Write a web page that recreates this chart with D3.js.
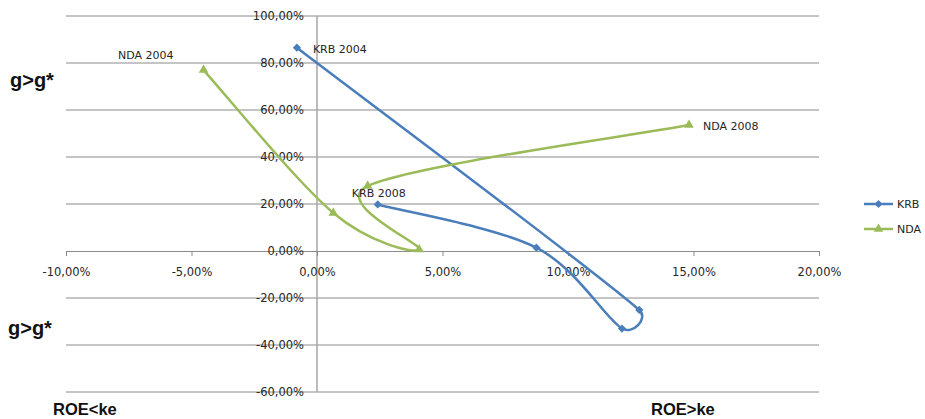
<!DOCTYPE html>
<html>
<head>
<meta charset="utf-8">
<script src="https://cdn.jsdelivr.net/npm/d3@7"></script>
<style>
  html, body { margin: 0; padding: 0; background: #fff; }
  svg { display: block; }
</style>
</head>
<body>
<svg id="chart" width="925" height="419"></svg>
<script>
// ROE - ke (x) against growth spread (y), 2004-2008
const years = ["2004", "2005", "2006", "2007", "2008"];
const krbX = [-0.0080, 0.1284, 0.1215, 0.0874, 0.0242];
const krbY = [0.865, -0.251, -0.330, 0.014, 0.198];
const ndaX = [-0.0452, 0.0065, 0.0407, 0.0202, 0.1482];
const ndaY = [0.770, 0.162, 0.006, 0.277, 0.536];
const xTicks = [-0.10, -0.05, 0, 0.05, 0.10, 0.15, 0.20];
const yTicks = [-0.6, -0.4, -0.2, 0, 0.2, 0.4, 0.6, 0.8, 1.0];
const seriesNames = ["KRB", "NDA"];

const svg = d3.select("#chart");
const plotLeft = 66, plotRight = 819, plotTop = 16, plotBottom = 392;
const labelFont = "'DejaVu Sans', Verdana, sans-serif";
const boldFont = "'Liberation Sans', Arial, sans-serif";

const x = d3.scaleLinear().domain([-0.10, 0.20]).range([plotLeft, plotRight]);
const y = d3.scaleLinear().domain([-0.6, 1.0]).range([plotBottom, plotTop]);

const fmt = d3.formatLocale({
  decimal: ",", thousands: ".", grouping: [3], currency: ["", " €"], minus: "-"
}).format(".2%");

const colors = { KRB: "#4a7ebb", NDA: "#9bbb59" };

// Spreadsheet-style smoothing: cubic Bezier segments whose control arms are
// 1/6 of the neighbour chord, capped at half of the segment length.
function SmoothCurve(context) { this._context = context; }
SmoothCurve.prototype = {
  areaStart() {}, areaEnd() {},
  lineStart() { this._pts = []; },
  point(px, py) { this._pts.push([+px, +py]); },
  lineEnd() {
    const p = this._pts, c = this._context, n = p.length;
    if (!n) return;
    c.moveTo(p[0][0], p[0][1]);
    const dist = (a, b) => Math.hypot(b[0] - a[0], b[1] - a[1]);
    for (let i = 0; i < n - 1; i++) {
      const p0 = p[i - 1] || p[i], p1 = p[i], p2 = p[i + 1], p3 = p[i + 2] || p[i + 1];
      const d12 = dist(p1, p2), d02 = dist(p0, p2), d13 = dist(p1, p3);
      let f1 = 1 / 6, f2 = 1 / 6;
      if (d02 / 6 >= d12 / 2 && d02 > 0) f1 = d12 / 2 / d02;
      if (d13 / 6 >= d12 / 2 && d13 > 0) f2 = d12 / 2 / d13;
      c.bezierCurveTo(
        p1[0] + f1 * (p2[0] - p0[0]), p1[1] + f1 * (p2[1] - p0[1]),
        p2[0] - f2 * (p3[0] - p1[0]), p2[1] - f2 * (p3[1] - p1[1]),
        p2[0], p2[1]);
    }
  }
};
const curveSmooth = ctx => new SmoothCurve(ctx);

// horizontal gridlines
svg.append("g")
  .selectAll("line")
  .data(yTicks.filter(d => d !== 0))
  .join("line")
  .attr("x1", plotLeft).attr("x2", plotRight)
  .attr("y1", d => y(d)).attr("y2", d => y(d))
  .attr("stroke", "#8a8a8a").attr("stroke-width", 1);

// vertical value axis through x = 0
svg.append("line")
  .attr("x1", x(0)).attr("x2", x(0))
  .attr("y1", plotTop).attr("y2", plotBottom)
  .attr("stroke", "#a6a6a6").attr("stroke-width", 1.5);

// horizontal axis through y = 0 with ticks below
const xAxis = d3.axisBottom(x).tickValues(xTicks).tickSize(5).tickFormat(fmt);
const gx = svg.append("g")
  .attr("transform", `translate(0,${y(0)})`)
  .call(xAxis);
gx.select(".domain").attr("stroke", "#8a8a8a");
gx.selectAll(".tick line").attr("stroke", "#8a8a8a");
gx.selectAll(".tick text")
  .attr("y", 0).attr("dy", "2.15em")
  .style("font-family", labelFont)
  .style("font-size", "11.5px")
  .attr("fill", "#262626");

// y tick labels, right aligned left of the value axis
svg.append("g")
  .selectAll("text")
  .data(yTicks)
  .join("text")
  .attr("x", x(0) - 13)
  .attr("y", d => y(d))
  .attr("dy", "0.36em")
  .attr("text-anchor", "end")
  .style("font-family", labelFont)
  .style("font-size", "11.5px")
  .attr("fill", "#262626")
  .text(d => fmt(d));

// smoothed series lines and markers
const line = d3.line()
  .x(d => x(d[0])).y(d => y(d[1]))
  .curve(curveSmooth);

const series = [
  { name: "KRB", pts: krbX.map((v, i) => [v, krbY[i]]) },
  { name: "NDA", pts: ndaX.map((v, i) => [v, ndaY[i]]) }
];

const diamond = d3.symbol().type(d3.symbolSquare).size(34);
const triangle = d3.symbol().type(d3.symbolTriangle).size(40);

series.forEach(s => {
  svg.append("path")
    .attr("d", line(s.pts))
    .attr("fill", "none")
    .attr("stroke", colors[s.name])
    .attr("stroke-width", 2.5)
    .attr("stroke-linejoin", "round");
  svg.append("g")
    .selectAll("path")
    .data(s.pts)
    .join("path")
    .attr("d", s.name === "KRB" ? diamond : triangle)
    .attr("transform", d => `translate(${x(d[0])},${y(d[1])})` + (s.name === "KRB" ? " rotate(45)" : ""))
    .attr("fill", colors[s.name]);
});

// point labels for first and last year
const pointLabels = [
  { text: "NDA " + years[0], px: ndaX[0], py: ndaY[0], dx: -30, dy: -15, anchor: "end" },
  { text: "KRB " + years[0], px: krbX[0], py: krbY[0], dx: 16, dy: 1, anchor: "start" },
  { text: "NDA " + years[4], px: ndaX[4], py: ndaY[4], dx: 14, dy: 1, anchor: "start" },
  { text: "KRB " + years[4], px: krbX[4], py: krbY[4], dx: 1, dy: -11, anchor: "middle" }
];
svg.append("g")
  .selectAll("text")
  .data(pointLabels)
  .join("text")
  .attr("x", d => x(d.px) + d.dx)
  .attr("y", d => y(d.py) + d.dy)
  .attr("dy", "0.36em")
  .attr("text-anchor", d => d.anchor)
  .style("font-family", labelFont)
  .style("font-size", "11px")
  .attr("fill", "#262626")
  .text(d => d.text);

// quadrant captions
const captions = [
  { text: "g>g*", cx: 10, cy: 87, size: 20 },
  { text: "g>g*", cx: 8, cy: 335, size: 20 },
  { text: "ROE<ke", cx: 53, cy: 415, size: 16.5 },
  { text: "ROE>ke", cx: 651, cy: 415, size: 16.5 }
];
svg.append("g")
  .selectAll("text")
  .data(captions)
  .join("text")
  .attr("x", d => d.cx).attr("y", d => d.cy)
  .style("font-family", boldFont)
  .style("font-weight", "bold")
  .style("font-size", d => d.size + "px")
  .attr("fill", "#111")
  .text(d => d.text);

// legend
const legend = svg.append("g").attr("transform", "translate(864,204)");
seriesNames.forEach((name, i) => {
  const g = legend.append("g").attr("transform", `translate(0,${i * 25})`);
  g.append("line").attr("x1", 0).attr("x2", 29).attr("y1", 0).attr("y2", 0)
    .attr("stroke", colors[name]).attr("stroke-width", 2.5);
  g.append("path")
    .attr("d", name === "KRB" ? diamond : triangle)
    .attr("transform", `translate(14.5,0)` + (name === "KRB" ? " rotate(45)" : ""))
    .attr("fill", colors[name]);
  g.append("text").attr("x", 33).attr("y", 0).attr("dy", "0.36em")
    .style("font-family", labelFont)
    .style("font-size", "11px").attr("fill", "#262626").text(name);
});
</script>
</body>
</html>
